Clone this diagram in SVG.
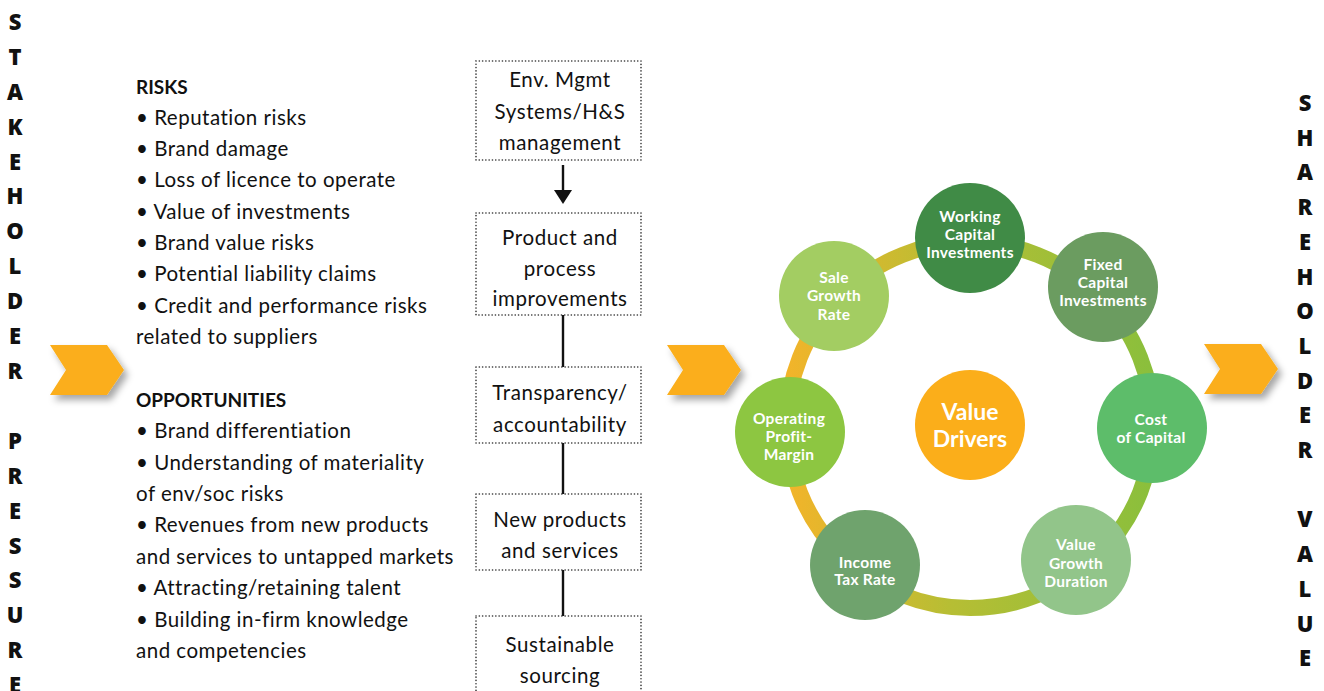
<svg xmlns="http://www.w3.org/2000/svg" width="1324" height="691" viewBox="0 0 1324 691">
<defs>
<style>
.vl{font-family:"Open Sans","DejaVu Sans",sans-serif;font-weight:800;font-size:22px;fill:#111;text-anchor:middle}
.lt{font-family:Lato,"Liberation Sans",sans-serif;font-size:20.5px;letter-spacing:0.5px;fill:#111}
.lh{font-family:Lato,"Liberation Sans",sans-serif;font-size:19px;font-weight:bold;fill:#111}
.bt{font-family:Lato,"Liberation Sans",sans-serif;font-size:20.5px;letter-spacing:0.6px;fill:#111;text-anchor:middle}
.box{fill:none;stroke:#333;stroke-width:1.6;stroke-dasharray:0.1 3.2;stroke-linecap:round}
.ct{font-family:Lato,"Liberation Sans",sans-serif;font-size:15.5px;letter-spacing:0.3px;font-weight:bold;fill:#fff;text-anchor:middle}
.vd{font-family:Lato,"Liberation Sans",sans-serif;font-size:23px;font-weight:bold;fill:#fff;text-anchor:middle}
.chev{fill:#fbae1a}
.conn{stroke:#111;stroke-width:2.4;fill:none}
</style>
<filter id="sh" x="-30%" y="-30%" width="170%" height="180%">
<feDropShadow dx="4" dy="5" stdDeviation="3.5" flood-color="#000" flood-opacity="0.35"/>
</filter>
<linearGradient id="ring" gradientUnits="userSpaceOnUse" x1="787" y1="0" x2="1153" y2="0">
<stop offset="0" stop-color="#f2b42a"/>
<stop offset="0.45" stop-color="#b6be34"/>
<stop offset="1" stop-color="#8abf3c"/>
</linearGradient>
<polygon id="chevShape" points="0,0 57,0 74,25 57,50 0,50 16,25"/>
</defs>
<rect width="1324" height="691" fill="#fff"/>

<g id="stakeholder-pressure">
<text class="vl" x="15" y="30">S</text>
<text class="vl" x="15" y="65">T</text>
<text class="vl" x="15" y="100">A</text>
<text class="vl" x="15" y="135">K</text>
<text class="vl" x="15" y="170">E</text>
<text class="vl" x="15" y="204">H</text>
<text class="vl" x="15" y="239">O</text>
<text class="vl" x="15" y="274">L</text>
<text class="vl" x="15" y="309">D</text>
<text class="vl" x="15" y="344">E</text>
<text class="vl" x="15" y="379">R</text>
<text class="vl" x="15" y="449">P</text>
<text class="vl" x="15" y="484">R</text>
<text class="vl" x="15" y="519">E</text>
<text class="vl" x="15" y="554">S</text>
<text class="vl" x="15" y="588">S</text>
<text class="vl" x="15" y="623">U</text>
<text class="vl" x="15" y="658">R</text>
<text class="vl" x="15" y="693">E</text>
</g>

<g id="chevron-left" filter="url(#sh)"><use href="#chevShape" class="chev" x="50" y="345"/></g>

<g id="risks">
<text class="lh" x="136" y="94">RISKS</text>
<text class="lt" x="136" y="125">• Reputation risks</text>
<text class="lt" x="136" y="156">• Brand damage</text>
<text class="lt" x="136" y="187">• Loss of licence to operate</text>
<text class="lt" x="136" y="219">• Value of investments</text>
<text class="lt" x="136" y="250">• Brand value risks</text>
<text class="lt" x="136" y="281">• Potential liability claims</text>
<text class="lt" x="136" y="313">• Credit and performance risks</text>
<text class="lt" x="136" y="344">related to suppliers</text>
</g>

<g id="opportunities">
<text class="lh" x="136" y="407">OPPORTUNITIES</text>
<text class="lt" x="136" y="438">• Brand differentiation</text>
<text class="lt" x="136" y="470">• Understanding of materiality</text>
<text class="lt" x="136" y="501">of env/soc risks</text>
<text class="lt" x="136" y="532">• Revenues from new products</text>
<text class="lt" x="136" y="564">and services to untapped markets</text>
<text class="lt" x="136" y="595">• Attracting/retaining talent</text>
<text class="lt" x="136" y="627">• Building in-firm knowledge</text>
<text class="lt" x="136" y="658">and competencies</text>
</g>

<g id="connectors">
<line class="conn" x1="563" y1="165" x2="563" y2="192"/>
<polygon points="554,190 572,190 563,204" fill="#111"/>
<line class="conn" x1="563" y1="315" x2="563" y2="367"/>
<line class="conn" x1="563" y1="443" x2="563" y2="494"/>
<line class="conn" x1="563" y1="570" x2="563" y2="616"/>
</g>

<g id="box-env">
<rect class="box" x="476" y="61" width="165" height="99"/>
<text class="bt" x="560" y="87">Env. Mgmt</text>
<text class="bt" x="560" y="119">Systems/H&amp;S</text>
<text class="bt" x="560" y="150">management</text>
</g>
<g id="box-product">
<rect class="box" x="476" y="213" width="165" height="102"/>
<text class="bt" x="560" y="245">Product and</text>
<text class="bt" x="560" y="276">process</text>
<text class="bt" x="560" y="306">improvements</text>
</g>
<g id="box-transparency">
<rect class="box" x="476" y="367" width="165" height="76"/>
<text class="bt" x="560" y="400">Transparency/</text>
<text class="bt" x="560" y="432">accountability</text>
</g>
<g id="box-new">
<rect class="box" x="476" y="494" width="165" height="76"/>
<text class="bt" x="560" y="527">New products</text>
<text class="bt" x="560" y="558">and services</text>
</g>
<g id="box-sourcing">
<rect class="box" x="476" y="616" width="165" height="90"/>
<text class="bt" x="560" y="652">Sustainable</text>
<text class="bt" x="560" y="683">sourcing</text>
</g>

<g id="chevron-middle" filter="url(#sh)"><use href="#chevShape" class="chev" x="667" y="345"/></g>

<g id="ring"><circle cx="970" cy="425" r="183" fill="none" stroke="url(#ring)" stroke-width="16"/></g>

<g id="value-drivers">
<circle cx="970" cy="425" r="55" fill="#fbae1a"/>
<text class="vd" x="970" y="420">Value</text>
<text class="vd" x="970" y="447">Drivers</text>
</g>
<g id="working-capital">
<circle cx="970" cy="238" r="55" fill="#408b46"/>
<text class="ct" x="970" y="222">Working</text>
<text class="ct" x="970" y="240">Capital</text>
<text class="ct" x="970" y="258">Investments</text>
</g>
<g id="fixed-capital">
<circle cx="1103" cy="287" r="55" fill="#6b9c60"/>
<text class="ct" x="1103" y="270">Fixed</text>
<text class="ct" x="1103" y="288">Capital</text>
<text class="ct" x="1103" y="306">Investments</text>
</g>
<g id="cost-of-capital">
<circle cx="1152" cy="428" r="55" fill="#5dbd6a"/>
<text class="ct" x="1151" y="425">Cost</text>
<text class="ct" x="1151" y="443">of Capital</text>
</g>
<g id="value-growth-duration">
<circle cx="1076" cy="560" r="55" fill="#92c58a"/>
<text class="ct" x="1076" y="550">Value</text>
<text class="ct" x="1076" y="569">Growth</text>
<text class="ct" x="1076" y="587">Duration</text>
</g>
<g id="income-tax-rate">
<circle cx="865" cy="565" r="55" fill="#6fa36d"/>
<text class="ct" x="865" y="568">Income</text>
<text class="ct" x="865" y="585">Tax Rate</text>
</g>
<g id="operating-profit-margin">
<circle cx="790" cy="432" r="55" fill="#8dc641"/>
<text class="ct" x="789" y="424">Operating</text>
<text class="ct" x="789" y="442">Profit-</text>
<text class="ct" x="789" y="460">Margin</text>
</g>
<g id="sale-growth-rate">
<circle cx="834" cy="296" r="55" fill="#a3cd62"/>
<text class="ct" x="834" y="283">Sale</text>
<text class="ct" x="834" y="301">Growth</text>
<text class="ct" x="834" y="320">Rate</text>
</g>

<g id="chevron-right" filter="url(#sh)"><use href="#chevShape" class="chev" x="1204" y="344"/></g>

<g id="shareholder-value">
<text class="vl" x="1305" y="111">S</text>
<text class="vl" x="1305" y="146">H</text>
<text class="vl" x="1305" y="180">A</text>
<text class="vl" x="1305" y="215">R</text>
<text class="vl" x="1305" y="250">E</text>
<text class="vl" x="1305" y="285">H</text>
<text class="vl" x="1305" y="319">O</text>
<text class="vl" x="1305" y="354">L</text>
<text class="vl" x="1305" y="389">D</text>
<text class="vl" x="1305" y="423">E</text>
<text class="vl" x="1305" y="458">R</text>
<text class="vl" x="1305" y="527">V</text>
<text class="vl" x="1305" y="562">A</text>
<text class="vl" x="1305" y="597">L</text>
<text class="vl" x="1305" y="632">U</text>
<text class="vl" x="1305" y="666">E</text>
</g>
</svg>
